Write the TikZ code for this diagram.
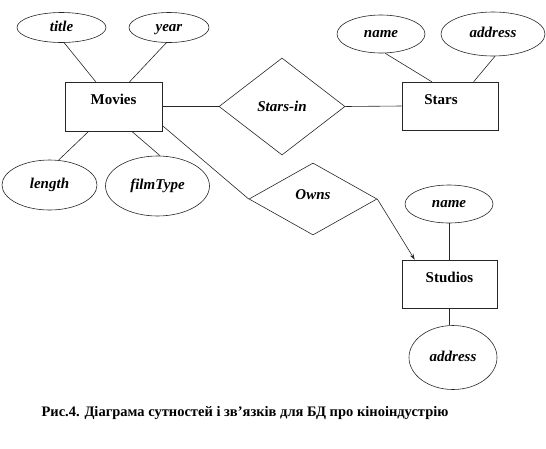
\documentclass[tikz,border=0pt]{standalone}
\usepackage{fontspec}
\setmainfont{Liberation Serif}[BoldFont={Liberation Serif Bold},ItalicFont={Liberation Serif Italic},BoldItalicFont={Liberation Serif Bold Italic}]
\newfontfamily\tnr{Liberation Serif}
\usetikzlibrary{shapes.geometric,arrows.meta}
\tikzset{
  attr/.style={ellipse,draw=black!85,line width=0.6pt,inner sep=0pt,font=\tnr\fontsize{15}{17}\selectfont\bfseries\itshape,text height=10pt,text depth=3pt},
  entity/.style={rectangle,draw=black!85,line width=0.6pt,inner sep=0pt,font=\tnr\fontsize{15}{17}\selectfont\bfseries,text height=10pt,text depth=14pt},
  rel/.style={diamond,draw=black!85,line width=0.6pt,inner sep=0pt,font=\tnr\fontsize{15}{17}\selectfont\bfseries\itshape},
  conn/.style={line width=0.6pt,draw=black!85}
}
\begin{document}
\begin{tikzpicture}[x=1pt,y=-1pt]
\useasboundingbox (0,0) rectangle (546,448);
% entities
\node[entity,minimum width=97pt,minimum height=49pt] (movies) at (113.5,106.5) {Movies};
\node[entity,minimum width=96pt,minimum height=48pt] (stars) at (450,106) {\hspace*{-18pt}Stars};
\node[entity,minimum width=95pt,minimum height=48pt] (studios) at (449.5,284) {Studios};
% relationships
\node[rel,minimum width=126pt,minimum height=97pt] (starsin) at (282,106.5) {Stars-in};
\node[rel,minimum width=128pt,minimum height=72pt] (owns) at (313,199) {\raisebox{8pt}{Owns}};
% attributes
\node[attr,minimum width=89pt,minimum height=30pt] (title) at (61.5,27.5) {title};
\node[attr,minimum width=80pt,minimum height=30pt] (year) at (169,27.5) {year};
\node[attr,minimum width=95pt,minimum height=50pt] (length) at (49.5,185) {length};
\node[attr,minimum width=104pt,minimum height=60pt] (filmtype) at (157.5,186) {filmType};
\node[attr,minimum width=88pt,minimum height=38pt] (sname) at (381,34) {name};
\node[attr,minimum width=104pt,minimum height=44pt] (saddr) at (493,34) {address};
\node[attr,minimum width=88pt,minimum height=38pt] (stname) at (449,204) {name};
\node[attr,minimum width=88pt,minimum height=64pt] (staddr) at (453,357.5) {address};
% connectors
\draw[conn] (title.-80) -- ([xshift=31pt]movies.north west);
\draw[conn] (year.-100) -- ([xshift=65pt]movies.north west);
\draw[conn] (length.70) -- ([xshift=24pt]movies.south west);
\draw[conn] (filmtype.85) -- ([xshift=67pt]movies.south west);
\draw[conn] (movies.east) -- (starsin.west);
\draw[conn] (starsin.east) -- (stars.west);
\draw[conn] (sname.-78) -- ([xshift=30pt]stars.north west);
\draw[conn] (saddr.-85) -- ([xshift=72pt]stars.north west);
\draw[conn] ([yshift=-19pt]movies.east) -- (owns.west);
\draw[conn,-{Stealth[length=6pt,width=4pt]}] (owns.east) -- ([xshift=13pt]studios.north west);
\draw[conn] (stname.south) -- (stname.south |- studios.north);
\draw[conn] (studios.south) -- (studios.south |- staddr.north);
% caption
\node[font=\tnr\fontsize{14.5}{16}\selectfont\bfseries] (caption) at (245,413) {Рис.4. Діаграма сутностей і зв’язків для БД про кіноіндустрію};
\end{tikzpicture}
\end{document}
